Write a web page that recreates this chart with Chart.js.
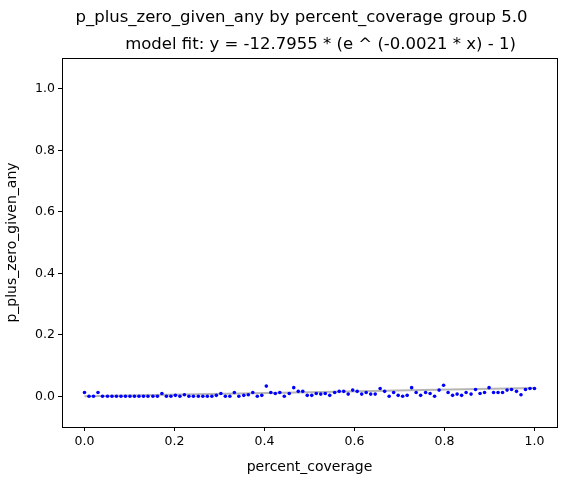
<!DOCTYPE html><html><head><script src="https://cdn.jsdelivr.net/npm/chart.js@4"></script>
<style>body{margin:0;background:#fff}#w{width:567px;height:480px}</style></head><body><div id="w"><canvas id="c"></canvas></div>
<script>
const titleLines=["p_plus_zero_given_any by percent_coverage group 5.0","model fit: y = -12.7955 * (e ^ (-0.0021 * x) - 1)"];
const xVals=[0,.010,.020,.030,.040,.051,.061,.071,.081,.091,.101,.111,.121,.131,.141,.152,.162,.172,.182,.192,.202,.212,.222,.232,.242,.253,.263,.273,.283,.293,.303,.313,.323,.333,.343,.354,.364,.374,.384,.394,.404,.414,.424,.434,.444,.455,.465,.475,.485,.495,.505,.515,.525,.535,.545,.556,.566,.576,.586,.596,.606,.616,.626,.636,.646,.657,.667,.677,.687,.697,.707,.717,.727,.737,.747,.758,.768,.778,.788,.798,.808,.818,.828,.838,.848,.859,.869,.879,.889,.899,.909,.919,.929,.939,.949,.960,.970,.980,.990,1.0];
const yVals=[.012,0,0,.012,0,0,0,0,0,0,0,0,0,0,0,0,0,.009,0,0,.003,0,.005,0,0,0,0,0,0,.003,.009,0,0,.012,0,.003,.005,.012,0,.003,.033,.012,.009,.012,0,.009,.028,.016,.016,.003,.003,
.009,.007,.009,.003,.012,.016,.016,.007,.020,.016,.007,.012,.007,.007,.025,.016,0,.012,.003,0,.003,.028,.012,.003,.012,.009,0,.020,.036,.012,.003,.007,.003,.012,.007,.022,.009,.012,.028,.012,.012,.012,.020,.022,.016,.005,.022,.025,.025];
const fitX=[0,0.25,0.5,0.75,1.0];
const fitY=[0,0.0067,0.0134,0.0201,0.0268];
const yTicks=[0,0.2,0.4,0.6,0.8,1.0];
const xTicks=[0,0.2,0.4,0.6,0.8,1.0];
const F="DejaVu Sans";
const box={id:'box',afterDraw(ch){const a=ch.chartArea,c=ch.ctx;c.save();c.strokeStyle='#000';c.lineWidth=1;c.strokeRect(a.left+.5,a.top+.5,a.right-a.left,a.bottom-a.top);
c.fillStyle='#000';c.font='16.5px "'+F+'"';c.textAlign='center';c.textBaseline='middle';const cx=(a.left+a.right)/2;c.fillText(titleLines[0],cx-8,18);c.fillText(titleLines[1],cx+11,45);c.restore();}};
new Chart(document.getElementById('c'),{type:'scatter',data:{datasets:[
{data:fitX.map((x,i)=>({x,y:fitY[i]})),showLine:true,borderColor:'rgba(150,150,150,0.7)',borderWidth:2,pointRadius:0,order:2},
{data:xVals.map((x,i)=>({x,y:yVals[i]})),backgroundColor:'#0000ff',borderColor:'#0000ff',pointRadius:1.8,borderWidth:0,order:1}]},
options:{animation:false,responsive:true,maintainAspectRatio:false,layout:{padding:{top:58,right:10,left:0,bottom:0}},
plugins:{legend:{display:false},tooltip:{enabled:false}},
scales:{x:{type:'linear',min:-0.05,max:1.05,afterBuildTicks(s){s.ticks=xTicks.map(v=>({value:v}));},afterFit(s){s.height=53;},
grid:{drawOnChartArea:false,drawTicks:true,tickLength:4,color:'#000'},border:{display:false},
ticks:{color:'#000',font:{family:F,size:12.5},padding:3,callback:v=>v.toFixed(1),maxRotation:0},
title:{display:true,text:'percent_coverage',color:'#000',font:{family:F,size:14},padding:{top:0}}},
y:{type:'linear',min:-0.1,max:1.1,afterBuildTicks(s){s.ticks=yTicks.map(v=>({value:v}));},afterFit(s){s.width=62;},
grid:{drawOnChartArea:false,drawTicks:true,tickLength:4,color:'#000'},border:{display:false},
ticks:{color:'#000',font:{family:F,size:12.5},padding:3,callback:v=>v.toFixed(1)},
title:{display:true,text:'p_plus_zero_given_any',color:'#000',font:{family:F,size:14},padding:{bottom:2}}}}},
plugins:[box]});
</script></body></html>
